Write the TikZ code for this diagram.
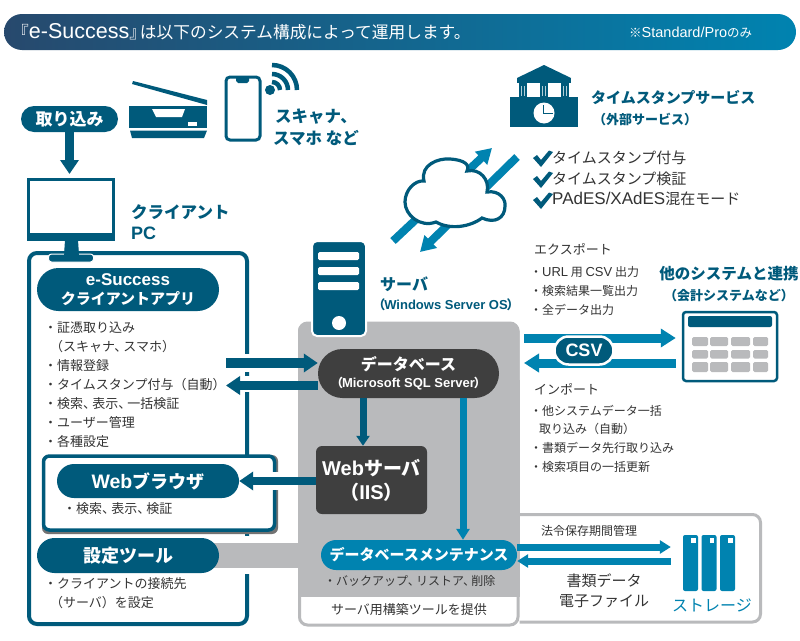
\documentclass[tikz,border=0pt]{standalone}
\usepackage{fontspec}
\setmainfont{Noto Sans CJK JP}
\newfontfamily\lat{Liberation Sans}
\usetikzlibrary{arrows.meta,shadings}
\definecolor{teal}{HTML}{005A7B}
\definecolor{azure}{HTML}{0083B0}
\definecolor{panel}{HTML}{B9BABC}
\definecolor{coal}{HTML}{3F3F3F}
\definecolor{ink}{HTML}{333333}
\definecolor{titleL}{HTML}{27496D}
\newcommand{\fs}[2]{\fontsize{#1}{#2}\selectfont}
\newcommand{\tn}{、\kern-0.3em}
\tikzset{
  pill/.style={inner sep=0pt,align=center,text=white,font=\bfseries},
  label/.style={inner sep=0pt,anchor=west,text=ink},
  head/.style={inner sep=0pt,text=teal,align=center,font=\bfseries},
  fatT/.style={teal,line width=9.5pt,-{Triangle[width=18pt,length=14pt]}},
  fatB/.style={azure,line width=9pt,-{Triangle[width=18pt,length=15pt]}},
  thinT/.style={teal,line width=7pt,-{Triangle[width=13pt,length=10pt]}},
  thinB/.style={azure,line width=7pt,-{Triangle[width=13pt,length=11pt]}},
  halo/.style={white,line width=18pt},
}
\begin{document}
\begin{tikzpicture}[x=1pt,y=-1pt]
\useasboundingbox (0,0) rectangle (800,640);
\fill[white] (0,0) rectangle (800,640);
% title bar
\node[inner sep=0pt,minimum width=792pt,minimum height=36pt,rounded corners=18pt,left color=titleL,right color=azure] (bar) at (400,32) {};
\node[inner sep=0pt,anchor=west,text=white,font=\fs{16.7}{20}] (title) at (12,32) {『{\lat\fontsize{21.5}{20}\selectfont e-Success}』\kern-6pt は以下のシステム構成によって運用します。};
\node[inner sep=0pt,anchor=west,text=white,font=\fs{12.5}{15}] (only) at (629,33) {※{\lat\fontsize{14.5}{15}\selectfont Standard/Pro}のみ};
% scanner
\fill[teal] (133,81) -- (207,100) -- (207,105) -- (132,84) -- cycle;
\fill[teal] (129,106) rectangle (207,128);
\fill[teal] (130,130.5) -- (207,130.5) -- (204,138) -- (132,138) -- cycle;
\fill[white] (152,109) -- (185,109) -- (182,117) -- (156,117) -- cycle;
\fill[white] (188,122) rectangle (197,126);
% phone
\draw[teal,line width=3pt,rounded corners=4pt] (226,77) rectangle (260,140);
\fill[teal] (236,77) -- (249,77) -- (249,81) -- (247,83) -- (238,83) -- (236,81) -- cycle;
\fill[teal] (270,90) circle[radius=5pt];
\draw[teal,line width=4.5pt] (272,82) .. controls (276.4,82) and (280,85.6) .. (280,90);
\draw[teal,line width=4.5pt] (272,74) .. controls (280.8,74) and (288,81.2) .. (288,90);
\draw[teal,line width=4.5pt] (272,65) .. controls (285.8,65) and (297,76.2) .. (297,90);
\node[head,font=\bfseries\fs{16.5}{22}] (scanlbl) at (316,127) {スキャナ、\\スマホ など};
% intake
\node[pill,fill=teal,minimum width=97pt,minimum height=26pt,rounded corners=13pt,font=\bfseries\fs{17}{20}] (intake) at (69.5,119) {取り込み};
% monitor
\fill[teal] (65,240) -- (78,240) -- (79,255) -- (64,255) -- cycle;
\node[inner sep=0pt,minimum width=85pt,minimum height=60pt,fill=white,draw=teal,line width=3pt] (monitor) at (71,209.5) {};
\fill[teal] (27,233) rectangle (115,241);
% client box
\node[inner sep=0pt,minimum width=218pt,minimum height=371pt,draw=teal,line width=4pt,rounded corners=8pt,fill=white] (client) at (138,438.5) {};
\fill[teal,draw=white,line width=1pt,rounded corners=3pt] (48.5,254) rectangle (93.5,262);
\fill[teal] (65,249) -- (78,249) -- (79,255) -- (64,255) -- cycle;
\draw[fatT,shorten >=4pt] (intake.south) -- (intake.south |- monitor.north);
\node[label,text=teal,font=\bfseries\fs{16.5}{20}] (clbl1) at (131,212) {クライアント};
\node[label,text=teal,font=\bfseries\fs{15.5}{20}] (clbl2) at (131,233) {{\lat\fontsize{18}{20}\selectfont PC}};
\node[pill,fill=teal,minimum width=182pt,minimum height=43pt,rounded corners=21.5pt,font=\bfseries\fs{15}{19}] (app) at (128,289.5) {{\lat\fontsize{17}{19}\selectfont e-Success}\\クライアントアプリ};
\foreach \y/\t/\n in {328/・証憑取り込み/a1,347/\ \ （スキャナ\tn スマホ）/a2,366/・情報登録/a3,385/・タイムスタンプ付与（自動）/a4,404/・検索\tn 表示\tn 一括検証/a5,423/・ユーザー管理/a6,442/・各種設定/a7}
  \node[label,font=\fs{13}{15}] (\n) at (44,\y) {\t};
% gray panel
\node[inner sep=0pt,minimum width=218.5pt,minimum height=302pt,fill=white,draw=panel,line width=3pt,rounded corners=8pt] (lower) at (408.75,474) {};
\fill[panel,rounded corners=8pt] (298,323) rectangle (519.5,400);
\fill[panel] (298,380) rectangle (519.5,597);
\fill[white] (220,540) rectangle (298,542);
\fill[white] (220,569) rectangle (298,572);
\fill[white] (240,536) rectangle (254,574);
\fill[panel] (200,543) rectangle (300,568);
\node[inner sep=0pt,text=ink,font=\fs{13}{15}] (toolnote) at (409,610) {サーバ用構築ツールを提供};
% storage box
\draw[panel,line width=3pt,rounded corners=8pt] (519.5,514.5) -- (760.5,514.5) -- (760.5,622) -- (519.5,622);
% server tower
\node[inner sep=0pt,minimum width=54pt,minimum height=95pt,fill=teal,draw=white,line width=2pt,rounded corners=5pt] (tower) at (339,288.5) {};
\foreach \y in {252,267,282} \fill[white,rounded corners=1.5pt] (318,\y) rectangle (359,\y+8);
\fill[white] (339,323) circle[radius=7pt];
\node[label,text=teal,font=\bfseries\fs{16}{20}] (srv) at (380,284) {サーバ};
\node[inner sep=0pt,text=teal,font=\bfseries\fs{12.5}{15}] (srvos) at (446,305) {（\kern-1pt{\lat\fontsize{13}{15}\selectfont Windows Server OS}\kern-1pt）};
% db
\node[pill,fill=coal,minimum width=181pt,minimum height=49pt,rounded corners=24.5pt,font=\bfseries\fs{16}{18}] (db) at (408.5,373.5) {データベース\\[-1pt]{\fs{12}{15}（\kern-1pt{\lat\fontsize{13}{15}\selectfont Microsoft SQL Server}\kern-1pt）}};
\node[pill,fill=coal,minimum width=111pt,minimum height=68pt,rounded corners=6pt,font=\bfseries\fs{19}{24}] (web) at (371.5,480) {{\lat\fontsize{20}{24}\selectfont Web}サーバ\\（{\lat\fontsize{20}{24}\selectfont IIS}）};
\node[pill,fill=azure,minimum width=196pt,minimum height=30pt,rounded corners=15pt,font=\bfseries\fs{15}{18}] (maint) at (419,555) {データベースメンテナンス};
\node[label,font=\fs{12}{15}] (mlist) at (324,581) {・バックアップ\tn リストア\tn 削除};
\coordinate (dbA) at (363,398);
\coordinate (dbB) at (463,398);
\draw[thinT] (dbA) -- (dbA |- web.north);
\draw[thinB] (dbB) -- (dbB |- maint.north);
% browser box
\fill[black!55,rounded corners=6pt] (42,455) rectangle (278,534);
\node[inner sep=0pt,minimum width=231pt,minimum height=74pt,fill=white,draw=teal,line width=3.5pt,rounded corners=6pt] (browser) at (159,493) {};
\node[pill,fill=teal,minimum width=182pt,minimum height=34pt,rounded corners=17pt,font=\bfseries\fs{18}{20}] (wb) at (148,481) {{\lat\fontsize{19.5}{20}\selectfont Web}ブラウザ};
\node[label,font=\fs{13}{15}] (wblist) at (63,509) {・検索\tn 表示\tn 検証};
% settings
\node[pill,fill=teal,minimum width=182pt,minimum height=35pt,rounded corners=17.5pt,font=\bfseries\fs{18}{20}] (tool) at (128,555.5) {設定ツール};
\node[label,font=\fs{13}{15}] (t1) at (44,584) {・クライアントの接続先};
\node[label,font=\fs{13}{15}] (t2) at (44,603) {\ \ （サーバ）を設定};
% db / client arrows
\coordinate (inA) at (226,363);
\coordinate (outB) at (226,385.5);
\draw[halo] (240,363) -- (255,363);
\draw[white,line width=16pt] (240,384) -- (255,384);
\draw[fatT] (inA) -- (inA -| db.west);
\draw[fatT] (outB -| db.west) -- (outB);
\draw[halo] (265,481) -- (285,481);
\draw[fatT,line width=8.5pt] (web.west |- wb.east) -- (wb.east);
% csv
\coordinate (cA) at (524,338);
\coordinate (cB) at (524,363);
\node[inner sep=0pt,minimum width=94pt,minimum height=69pt,fill=white,draw=teal,line width=2.5pt,rounded corners=3pt] (table) at (730,346.5) {};
\draw[fatB,shorten >=6pt] (cA) -- (cA -| table.west);
\draw[fatB,shorten <=6pt] (cB -| table.west) -- (cB);
\node[pill,fill=teal,draw=white,line width=2.5pt,minimum width=59pt,minimum height=28pt,rounded corners=14pt,font=\bfseries\fs{18}{20}\lat] (csv) at (584,350.5) {CSV};
\fill[teal,rounded corners=2pt] (688,316) rectangle (772,327);
\foreach \a/\b in {692/708,710/728,731/750,753/768}
  \foreach \p/\q in {337/346,350/358.5,362/372}
    \fill[panel,rounded corners=1.5pt] (\a,\p) rectangle (\b,\q);
\node[head,font=\bfseries\fs{15.5}{20}] (oth) at (729,274) {他のシステムと連携};
\node[head,font=\bfseries\fs{13}{15}] (oth2) at (729,296) {（会計システムなど）};
\node[label,font=\fs{13}{15}] (exp) at (534,249) {エクスポート};
\foreach \y/\t/\n in {272/・{\lat\fontsize{13}{15}\selectfont URL} 用 {\lat\fontsize{13}{15}\selectfont CSV} 出力/e1,291/・検索結果一覧出力/e2,310/・全データ出力/e3}
  \node[label,font=\fs{12}{15}] (\n) at (530,\y) {\t};
\node[label,font=\fs{13}{15}] (imp) at (534,389) {インポート};
\foreach \y/\t/\n in {411/・他システムデータ一括/i1,448/・書類データ先行取り込み/i3,467/・検索項目の一括更新/i4}
  \node[label,font=\fs{12}{15}] (\n) at (530,\y) {\t};
\node[label,font=\fs{12}{15}] (i2) at (539,429) {取り込み（自動）};
% storage
\foreach \x/\n in {683/s1,701.5/s2,720/s3}{
  \node[inner sep=0pt,minimum width=15pt,minimum height=56pt,fill=azure,rounded corners=2pt] (\n) at (\x+7.5,563) {};
  \fill[white] (\x+8,538) rectangle (\x+12.5,542.5);
}
\coordinate (lnkA) at (0,547);
\coordinate (lnkB) at (0,561);
\draw[thinB,shorten >=12pt] (maint.east |- lnkA) -- (s1.west |- lnkA);
\draw[thinB,shorten <=12pt] (s1.west |- lnkB) -- (maint.east |- lnkB);
\node[inner sep=0pt,anchor=west,text=ink,font=\fs{12}{15}] (law) at (541,531) {法令保存期間管理};
\node[inner sep=0pt,text=ink,align=center,font=\fs{15}{20}] (doc) at (604,591) {書類データ\\電子ファイル};
\node[inner sep=0pt,text=azure,font=\fs{16}{18}] (stlbl) at (712,605) {ストレージ};
% timestamp
\node[inner sep=0pt,minimum width=68pt,minimum height=30pt,fill=teal] (bldg) at (544,112) {};
\fill[teal] (544,65) -- (571,78) -- (517,78) -- cycle;
\fill[teal] (517,78) rectangle (571,83);
\foreach \x in {519,540,561}{
  \fill[teal] (\x,83) rectangle (\x+8,97);
  \fill[white!70!teal] (\x+2,86) rectangle (\x+3,96);
  \fill[white!70!teal] (\x+5,86) rectangle (\x+6,96);
}
\fill[white] (544,113) circle[radius=10.5pt];
\draw[teal,line width=1.6pt] (543.5,105) -- (543.5,113.5) -- (553,113.5);
\node[label,text=teal,font=\bfseries\fs{15}{18}] (ts) at (591,98) {タイムスタンプサービス};
\node[label,text=teal,font=\bfseries\fs{13}{15}] (ts2) at (593,119) {（外部サービス）};
% cloud
\coordinate (up0) at (393,241);
\coordinate (up1) at (492,148);
\coordinate (dn0) at (517,157);
\coordinate (dn1) at (420,252);
\draw[azure,line width=8pt,-{Triangle[width=17pt,length=15pt]}] (up0) -- (up1);
\draw[azure,line width=8pt,-{Triangle[width=17pt,length=15pt]}] (dn0) -- (dn1);
\draw[teal,line width=3.2pt,fill=white] (424,181) .. controls (420,165) and (438,158) .. (450,159) .. controls (465,160) and (470,165) .. (467,171) .. controls (480,168) and (490,180) .. (487,192) .. controls (500,190) and (506,200) .. (505,206) .. controls (505,218) and (495,224) .. (482,218) .. controls (470,227) and (450,230) .. (436,222) .. controls (420,228) and (405,215) .. (405,202) .. controls (405,190) and (415,180) .. (424,181) -- cycle;
\foreach \d in {0,21,42}
  \fill[teal] (533,158+\d) -- (537,155+\d) -- (541,160+\d) -- (549,150.5+\d) -- (553,152+\d) -- (541,167+\d) -- cycle;
\node[label,font=\fs{15}{18}] (c1) at (552,158) {タイムスタンプ付与};
\node[label,font=\fs{15}{18}] (c2) at (552,179) {タイムスタンプ検証};
\node[label,font=\fs{15}{18}] (c3) at (552,199) {{\lat\fontsize{17}{18}\selectfont PAdES/XAdES}混在モード};
\end{tikzpicture}
\end{document}
